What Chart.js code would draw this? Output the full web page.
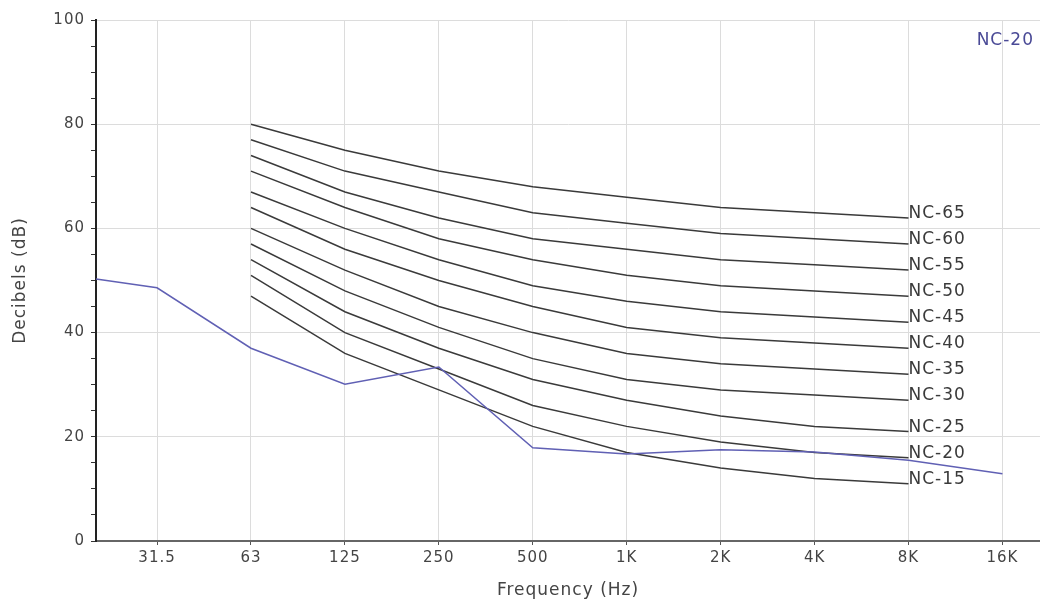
<!DOCTYPE html>
<html><head><meta charset="utf-8">
<script src="https://cdn.jsdelivr.net/npm/chart.js@4/dist/chart.umd.min.js"></script>
<style>html,body{margin:0;padding:0;background:#fff;overflow:hidden}#wrap{width:1040px;height:604px;position:relative}</style>
</head><body><div id="wrap"><canvas id="c" width="1040" height="604"></canvas></div>
<script>
// Octave band tick labels and their positions (octaves from 31.5 Hz)
const bandLabels = ['31.5','63','125','250','500','1K','2K','4K','8K','16K'];
const bandPos = [0,1,2,3,4,5,6,7,8,9];
// NC curves: 63 Hz .. 8 kHz
const ncPos = [1,2,3,4,5,6,7,8];
const ncNames = ['NC-65','NC-60','NC-55','NC-50','NC-45','NC-40','NC-35','NC-30','NC-25','NC-20','NC-15'];
const nc65 = [80,75,71,68,66,64,63,62];
const nc60 = [77,71,67,63,61,59,58,57];
const nc55 = [74,67,62,58,56,54,53,52];
const nc50 = [71,64,58,54,51,49,48,47];
const nc45 = [67,60,54,49,46,44,43,42];
const nc40 = [64,56,50,45,41,39,38,37];
const nc35 = [60,52,45,40,36,34,33,32];
const nc30 = [57,48,41,35,31,29,28,27];
const nc25 = [54,44,37,31,27,24,22,21];
const nc20 = [51,40,33,26,22,19,17,16];
const nc15 = [47,36,29,22,17,14,12,11];
const ncValues = [nc65,nc60,nc55,nc50,nc45,nc40,nc35,nc30,nc25,nc20,nc15];
// Measured spectrum (starts at the 20 Hz left edge)
const measuredName = 'NC-20';
const measuredPos = [-0.65,0,1,2,3,4,5,6,7,8,9];
const measured = [50.3,48.6,37,30.1,33.4,17.9,16.7,17.5,17.1,15.5,12.9];

const FONT = 'DejaVu Sans';
const datasets = ncValues.map((vals,i)=>({
  label: ncNames[i],
  data: vals.map((v,j)=>({x:ncPos[j], y:v})),
  borderColor:'#3a3a3a', borderWidth:1.5, pointRadius:0, tension:0, fill:false, order:2
}));
datasets.push({
  label: measuredName,
  data: measured.map((v,j)=>({x:measuredPos[j], y:v})),
  borderColor:'#6060b4', borderWidth:1.5, pointRadius:0, tension:0, fill:false, order:1
});

const spacingPlugin = {
  id:'spacing',
  beforeDraw(chart){ chart.ctx.letterSpacing = '1px'; }
};
const labelPlugin = {
  id:'ncLabels',
  afterDatasetsDraw(chart){
    const ctx = chart.ctx, xs = chart.scales.x, ys = chart.scales.y;
    ctx.save();
    ctx.letterSpacing = '1px';
    ctx.font = '17px "'+FONT+'"';
    ctx.fillStyle = '#3a3a3a';
    ctx.textAlign = 'left';
    ctx.textBaseline = 'alphabetic';
    ncValues.forEach((vals,i)=>{
      const lx = xs.getPixelForValue(ncPos[ncPos.length-1]);
      const ly = ys.getPixelForValue(vals[vals.length-1]);
      ctx.fillText(ncNames[i], lx, ly);
    });
    ctx.fillStyle = '#4a4a96';
    ctx.textAlign = 'right';
    ctx.textBaseline = 'middle';
    ctx.fillText(measuredName, chart.chartArea.right-6, 41);
    ctx.restore();
  }
};

new Chart(document.getElementById('c'), {
  type:'line',
  data:{datasets},
  plugins:[spacingPlugin, labelPlugin],
  options:{
    responsive:false, animation:false, devicePixelRatio:1,
    layout:{padding:{top:20,right:0,left:0,bottom:0}},
    plugins:{legend:{display:false}, tooltip:{enabled:false}},
    scales:{
      x:{
        type:'linear', min:-0.65, max:9.4,
        afterBuildTicks(s){ s.ticks = bandPos.map(v=>({value:v})); },
        afterFit(s){ s.height = 63; },
        ticks:{ autoSkip:false, maxRotation:0, padding:4, color:'#444', font:{family:FONT,size:15},
          callback:(v)=>{ const k = bandPos.indexOf(v); return k>=0 ? bandLabels[k] : ''; } },
        grid:{ color:'#dcdcdc', tickColor:'#555', tickLength:4, lineWidth:1 },
        border:{ color:'#666', width:2 },
        title:{ display:true, text:'Frequency (Hz)', color:'#444', font:{family:FONT,size:17}, padding:{top:4,bottom:3} }
      },
      y:{
        min:0, max:100,
        afterFit(s){ s.width = 96; },
        ticks:{ stepSize:5, autoSkip:false, padding:6, color:'#444', font:{family:FONT,size:15},
          callback:(v)=> v%20===0 ? String(v) : '' },
        grid:{ color:(c)=> (c.tick && c.tick.value%20===0) ? '#dcdcdc' : 'rgba(0,0,0,0)', tickColor:'#333', tickLength:5 },
        border:{ color:'#222', width:2 },
        title:{ display:true, text:'Decibels (dB)', color:'#444', font:{family:FONT,size:17}, padding:{top:10,bottom:0} }
      }
    }
  }
});
</script></body></html>
